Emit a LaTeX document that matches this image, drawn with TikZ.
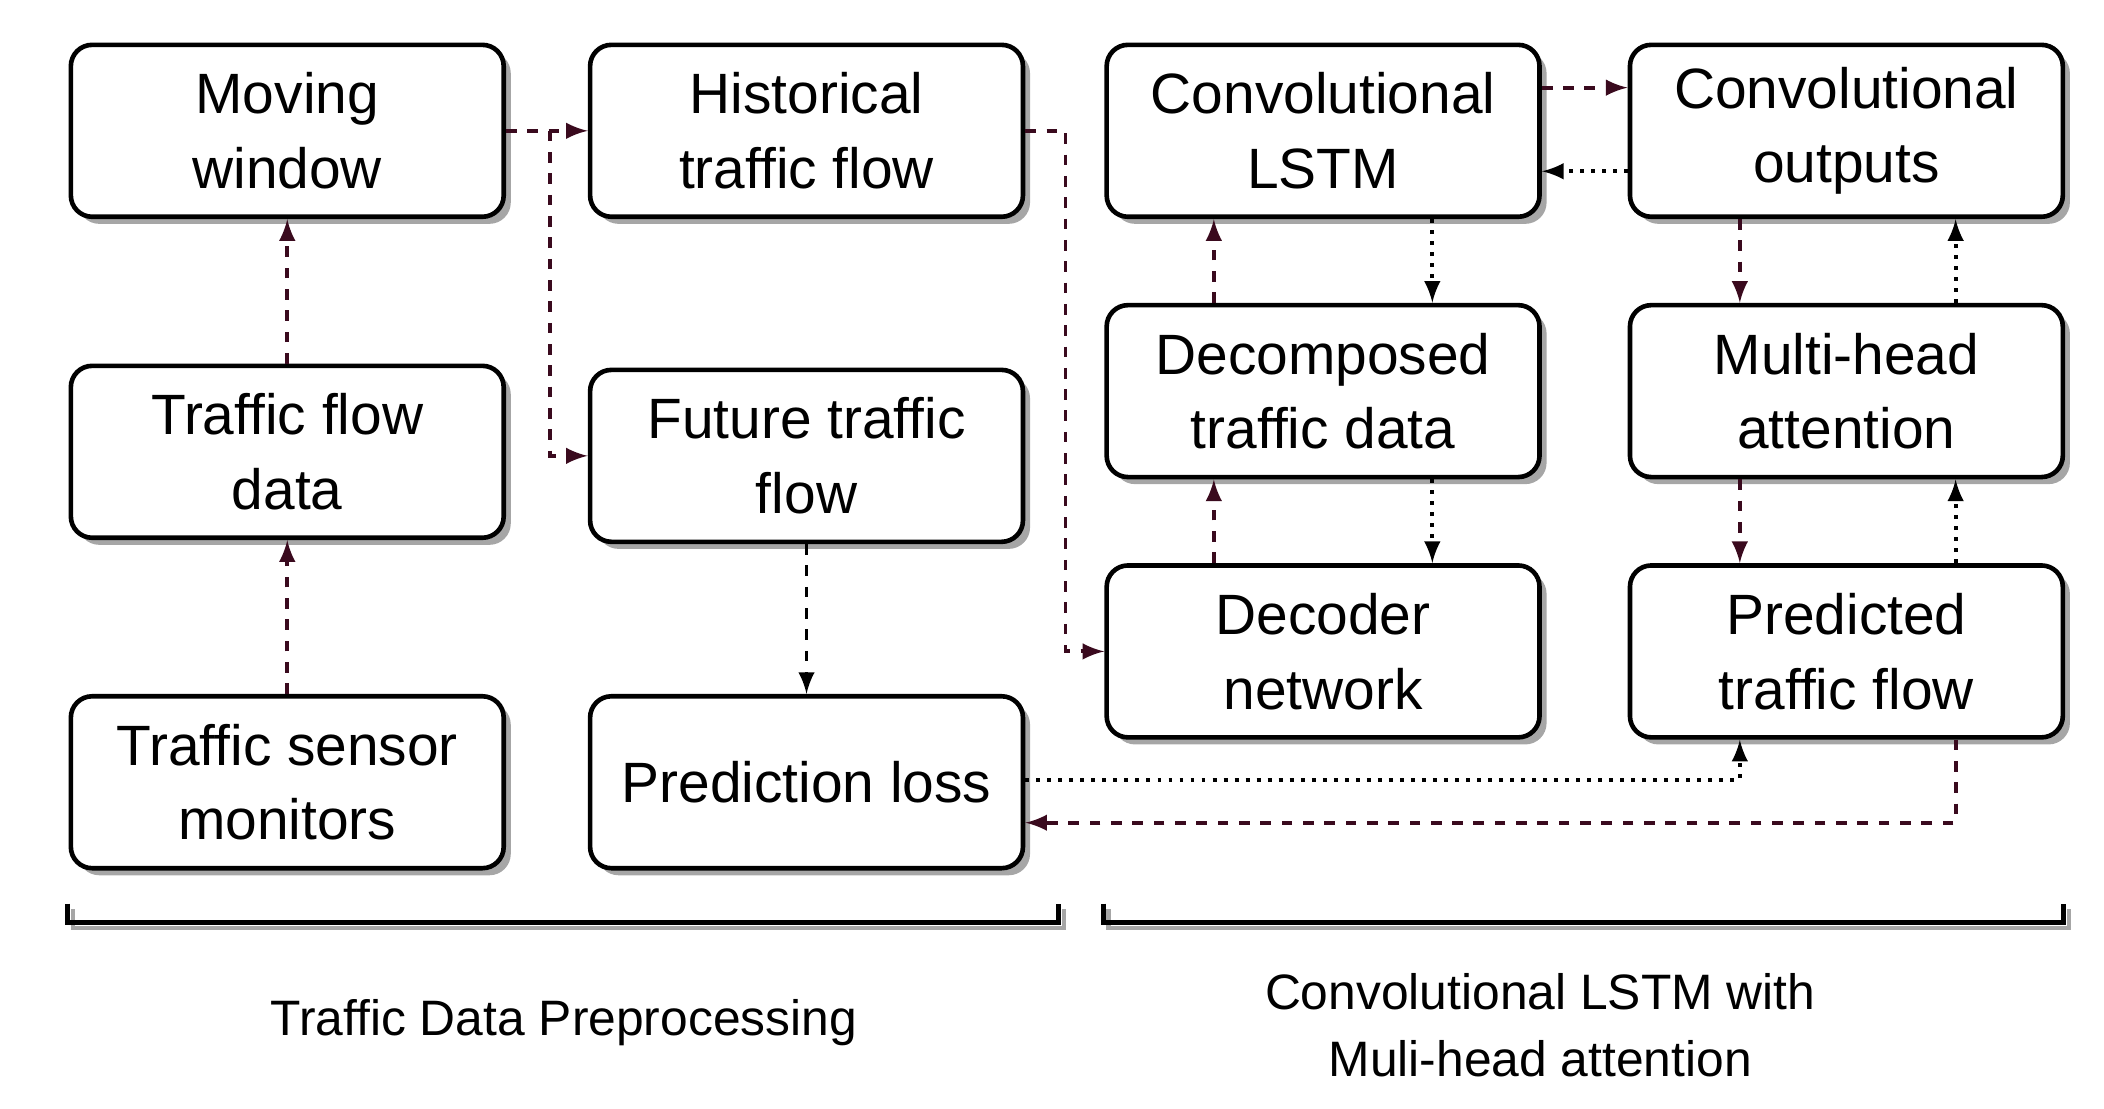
\documentclass[tikz,border=0pt]{standalone}
\usepackage{fontspec}
\setmainfont{Liberation Sans}
\usetikzlibrary{arrows,shadows}
\definecolor{maroon}{HTML}{3A0A1E}
\tikzset{
	box/.style={draw, line width=1.3pt, rounded corners=6pt, fill=white, minimum width=4.28cm, minimum height=1.7cm, align=center, font=\fontsize{16}{21}\selectfont, drop shadow={shadow xshift=0.07cm, shadow yshift=-0.07cm, fill=gray!70, opacity=1}},
	flow/.style={->, >=latex, line width=1.1pt, dashed, color=maroon},
	back/.style={->, >=latex, line width=1.1pt, dotted, color=black},
	pre/.style={->, >=latex, line width=1.1pt, dashed, color=black},
}
\begin{document}
\begin{tikzpicture}[x=0.01333cm, y=-0.01333cm]
		\useasboundingbox (0,0) rectangle (1560,822);
		
		\node[box] (sensor) at (213,580) {Traffic sensor\\monitors};
		\node[box] (data) at (213,335) {Traffic flow\\data};
		\node[box] (window) at (213,97) {Moving\\window};
		\node[box] (hist) at (598,97) {Historical\\traffic flow};
		\node[box] (future) at (598,338) {Future traffic\\flow};
		\node[box] (loss) at (598,580) {Prediction loss};
		
		\node[box] (clstm) at (981,97) {Convolutional\\LSTM};
		\node[box] (decomp) at (981,290) {Decomposed\\traffic data};
		\node[box] (decoder) at (981,483) {Decoder\\network};
		\node[box] (cout) at (1369,97) {Convolutional\\outputs};
		\node[box] (mha) at (1369,290) {Multi-head\\attention};
		\node[box] (pred) at (1369,483) {Predicted\\traffic flow};
		
		% preprocessing
		\draw [flow] (sensor) -- (data);
		\draw [flow] (data) -- (window);
		\coordinate (split) at (408,97);
		\draw [flow] (window) -- (hist);
		\draw [flow] (split) |- (future.west);
		\coordinate (turn) at (790,97);
		\draw [flow] (hist.east) -- (turn) |- (decoder.west);
		\draw [pre] (future) -- (loss);
		
		% conv lstm with attention
		\draw [flow] (decoder.north -| 900,0) -- (decomp.south -| 900,0);
		\draw [flow] (decomp.north -| 900,0) -- (clstm.south -| 900,0);
		\draw [back] (clstm.south -| 1062,0) -- (decomp.north -| 1062,0);
		\draw [back] (decomp.south -| 1062,0) -- (decoder.north -| 1062,0);
		\draw [flow] (clstm.east |- 0,65) -- (cout.west |- 0,65);
		\draw [back] (cout.west |- 0,127) -- (clstm.east |- 0,127);
		\draw [flow] (cout.south -| 1290,0) -- (mha.north -| 1290,0);
		\draw [flow] (mha.south -| 1290,0) -- (pred.north -| 1290,0);
		\draw [back] (pred.north -| 1450,0) -- (mha.south -| 1450,0);
		\draw [back] (mha.north -| 1450,0) -- (cout.south -| 1450,0);
		
		\draw [back] (loss.east |- 0,578) -| (pred.south -| 1290,0);
		\coordinate (down) at (1450,610);
		\draw [flow] (pred.south -| 1450,0) -- (down) -- (loss.east |- down);
		
		% brackets
		\draw [gray!70, line width=1.3pt] (54,674) -- (54,688) -- (789,688) -- (789,674);
		\draw [line width=1.3pt] (50,670) -- (50,684) -- (785,684) -- (785,670);
		\draw [gray!70, line width=1.3pt] (822,674) -- (822,688) -- (1534,688) -- (1534,674);
		\draw [line width=1.3pt] (818,670) -- (818,684) -- (1530,684) -- (1530,670);
		\node[font=\fontsize{14}{19}\selectfont] (prelabel) at (418,758) {Traffic Data Preprocessing};
		\node[font=\fontsize{14}{19}\selectfont, align=center] (attlabel) at (1142,760) {Convolutional LSTM with\\Muli-head attention};
\end{tikzpicture}
\end{document}
